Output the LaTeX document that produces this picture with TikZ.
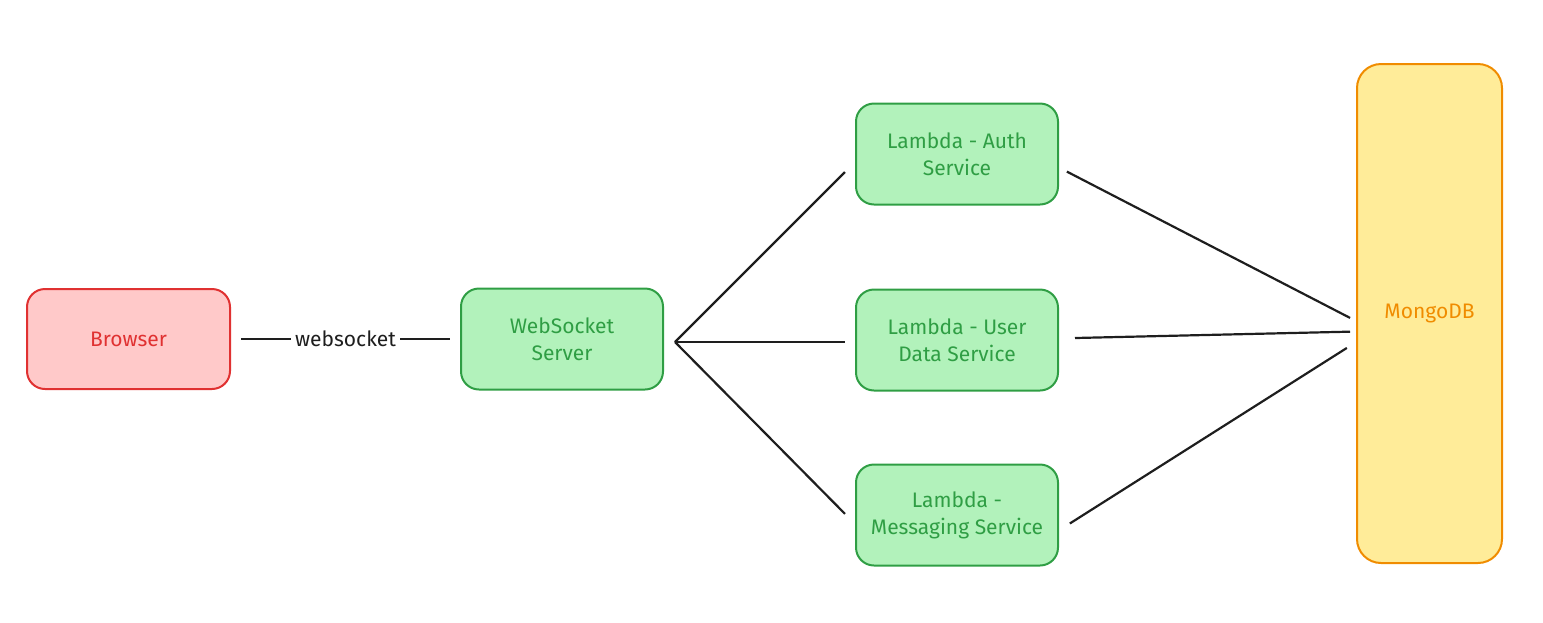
\documentclass[tikz,border=0pt]{standalone}
\usepackage{fontspec}
\setmainfont{Fira Sans}
\usetikzlibrary{positioning}
\definecolor{redline}{HTML}{E03131}
\definecolor{redfill}{HTML}{FFC9C9}
\definecolor{greenline}{HTML}{2F9E44}
\definecolor{greenfill}{HTML}{B2F2BB}
\definecolor{orangeline}{HTML}{F08C00}
\definecolor{orangefill}{HTML}{FFEC99}
\definecolor{ink}{HTML}{1E1E1E}
\tikzset{
    client/.style={
      rectangle, rounded corners=9pt,
           draw=redline, fill=redfill, line width=1pt,
           text=redline,
           inner sep=2pt, outer sep=0pt,
           align=center,
           minimum width=101.5pt,
           minimum height=50pt,
           },
}
\tikzset{
    service/.style={
      rectangle, rounded corners=9pt,
           draw=greenline, fill=greenfill, line width=1pt,
           text=greenline,
           inner sep=2pt, outer sep=0pt,
           align=center,
           minimum width=101pt,
           minimum height=50.5pt,
           },
}
\tikzset{
    store/.style={
      rectangle, rounded corners=12pt,
           draw=orangeline, fill=orangefill, line width=1pt,
           text=orangeline,
           inner sep=2pt, outer sep=0pt,
           align=center,
           minimum width=72.5pt,
           minimum height=249.5pt,
           },
}
\tikzset{
    link/.style={draw=ink, line width=1.1pt},
}

\begin{document}
\begin{tikzpicture}[font=\fontsize{10.5}{13.5}\selectfont]

\useasboundingbox (0,0) rectangle (771.5pt,-311pt);

\node[client](bro) at (64.25pt,-169.5pt){Browser};
\node[service,right = 115.5pt of bro](wss){WebSocket\\Server};

\draw[link,shorten <=5.5pt,shorten >=5.5pt] (bro) -- node[fill=white,text=ink,inner sep=2pt]{websocket} (wss);

\node[service,right = 96.5pt of wss,yshift=-0.5pt](usr){Lambda - User\\Data Service};
\node[service,above = 42.5pt of usr](aut){Lambda - Auth\\Service};
\node[service,below = 37pt of usr](msg){Lambda -\\Messaging Service};

\node[store,right = 149.5pt of usr,yshift=13.25pt](mdb){MongoDB};

%fan out from the server
\coordinate (hub) at ([xshift=6pt,yshift=-1.5pt]wss.east);

\path (hub) edge[link,shorten >=7.8pt] ([yshift=-3.5pt]aut.west);
\path (hub) edge[link,shorten >=5.5pt] ([yshift=-1pt]usr.west);
\path (hub) edge[link,shorten >=7.8pt] ([yshift=-5pt]msg.west);

%into the database
\path ([yshift=-6.5pt]aut.east) edge[link,shorten <=5pt,shorten >=3.9pt] ([yshift=-4pt]mdb.west);
\path ([yshift=0.8pt]usr.east) edge[link,shorten <=8.5pt,shorten >=3.5pt] ([yshift=-9pt]mdb.west);
\path ([yshift=-8pt]msg.east) edge[link,shorten <=7pt,shorten >=6pt] ([yshift=-14pt]mdb.west);

\end{tikzpicture}
\end{document}
